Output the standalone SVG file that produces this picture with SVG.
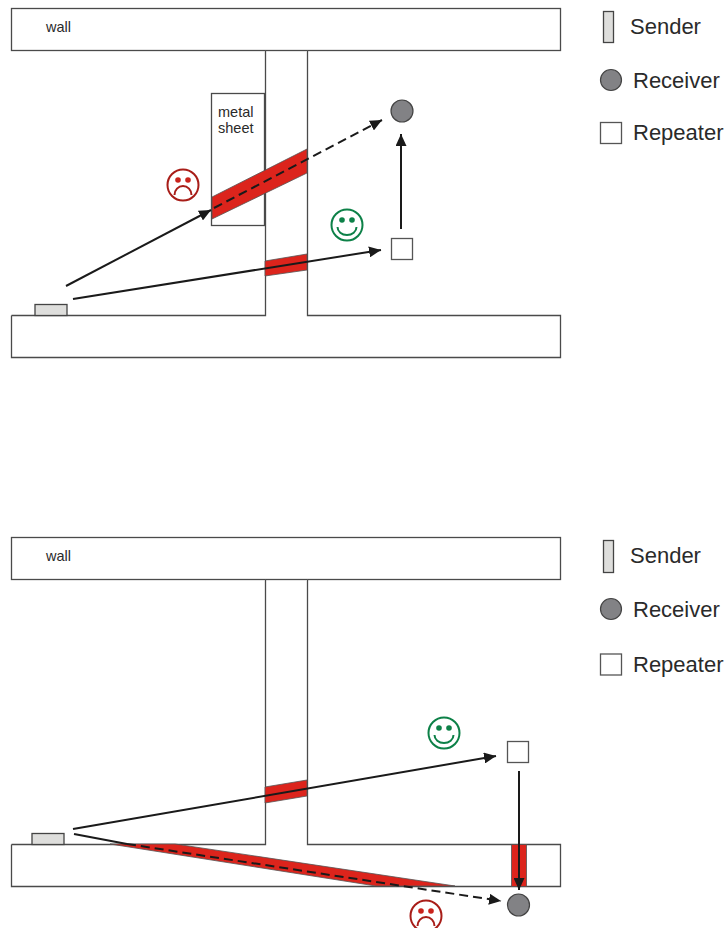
<svg xmlns="http://www.w3.org/2000/svg" width="726" height="928" viewBox="0 0 726 928">
<style>
text{font-family:"Liberation Sans",Arial,sans-serif;fill:#2a2a2a}
.lg{font-size:22px}
.sm{font-size:14.500px}
.wall{fill:#fff;stroke:#4a4a4a;stroke-width:1.3}
.red{fill:#dc241c;stroke:#555;stroke-width:.8}
.snd{fill:#dededc;stroke:#444;stroke-width:1.300}
.rcv{fill:#828285;stroke:#444;stroke-width:1.200}
.rep{fill:#fff;stroke:#555;stroke-width:1.300}
.ln{fill:none;stroke:#1a1a1a;stroke-width:2}
.dash{stroke-dasharray:9 5}
.bad{fill:none;stroke:#a81d18;stroke-width:2}
.good{fill:none;stroke:#0d8148;stroke-width:2}
.badf{fill:#c9231c}
.goodf{fill:#0d8148}
</style>
<defs>
<marker id="a" markerUnits="userSpaceOnUse" markerWidth="13" markerHeight="11" refX="12" refY="5.500" orient="auto"><path d="M0 0L12 5.500L0 11Z" fill="#1a1a1a"/></marker>
<g id="frown"><circle r="15.500" class="bad"/><circle cx="-5" cy="-5" r="2.800" class="badf"/><circle cx="5" cy="-5" r="2.800" class="badf"/><path d="M-8.500 10A8.500 9 0 0 1 8.500 10" class="bad"/></g>
<g id="smile"><circle r="15.500" class="good"/><circle cx="-5" cy="-5" r="2.800" class="goodf"/><circle cx="5" cy="-5" r="2.800" class="goodf"/><path d="M-9.500 2A9.500 8 0 0 0 9.500 2" class="good"/></g>
</defs>

<g id="top-walls">
<rect id="top-wall-upper" class="wall" x="11.500" y="8.500" width="549" height="42"/>
<path id="top-wall-left" class="wall" d="M11.500 315.500H265.500V50.500M307.500 50.500V315.500H560.500V357.500H11.500V315.500"/>
<rect id="top-sheet" class="wall" x="211.500" y="93.500" width="53" height="132"/>
<path class="red" d="M212 197L307 149V173L212 219Z"/>
<path class="red" d="M265 261L307 254V270L265 276Z"/>
<text class="sm" x="46" y="32">wall</text>
<text class="sm" x="218" y="117">metal</text>
<text class="sm" x="218" y="133">sheet</text>
</g>
<g id="top-sender"><rect class="snd" x="35" y="304.500" width="32" height="11"/></g>
<g id="top-receiver"><circle class="rcv" cx="402" cy="111" r="11"/></g>
<g id="top-repeater"><rect class="rep" x="391.500" y="238.500" width="21" height="21"/></g>
<g id="top-frown"><use href="#frown" x="183" y="185"/></g>
<g id="top-smile"><use href="#smile" x="347" y="225"/></g>
<g id="top-legend">
<g id="top-legend-sender"><rect class="snd" x="603.500" y="11.500" width="10" height="31"/><text class="lg" x="630" y="34">Sender</text></g>
<g id="top-legend-receiver"><circle class="rcv" cx="611" cy="80" r="10.500"/><text class="lg" x="633" y="88">Receiver</text></g>
<g id="top-legend-repeater"><rect class="rep" x="600.500" y="122.500" width="21" height="21"/><text class="lg" x="633" y="140">Repeater</text></g>
</g>

<g id="bottom-walls">
<rect id="bottom-wall-upper" class="wall" x="11.500" y="537.500" width="549" height="42"/>
<path id="bottom-wall-left" class="wall" d="M11.500 844.500H265.500V579.500M307.500 579.500V844.500H560.500V886.500H11.500V844.500"/>
<path class="red" d="M265 787L307 780V796L265 803Z"/>
<path class="red" d="M110 844H175L455 886H376Z"/>
<rect class="red" x="511.500" y="844.500" width="15" height="42"/>
<text class="sm" x="46" y="561">wall</text>
</g>
<g id="bottom-sender"><rect class="snd" x="32" y="833.500" width="32" height="11"/></g>
<g id="bottom-receiver"><circle class="rcv" cx="518.500" cy="905" r="11"/></g>
<g id="bottom-repeater"><rect class="rep" x="507.500" y="741.500" width="21" height="21"/></g>
<g id="bottom-smile"><use href="#smile" x="444" y="733"/></g>
<g id="bottom-frown"><use href="#frown" x="426" y="916"/></g>
<g id="bottom-legend">
<g id="bottom-legend-sender"><rect class="snd" x="603.500" y="540.500" width="10" height="32"/><text class="lg" x="630" y="563">Sender</text></g>
<g id="bottom-legend-receiver"><circle class="rcv" cx="611" cy="609" r="10.500"/><text class="lg" x="633" y="617">Receiver</text></g>
<g id="bottom-legend-repeater"><rect class="rep" x="600.500" y="654" width="21" height="21"/><text class="lg" x="633" y="672">Repeater</text></g>
</g>

<g id="connectors">
<path class="ln" d="M66 286L211 210" marker-end="url(#a)"/>
<path class="ln dash" d="M214 208L382 120" marker-end="url(#a)"/>
<path class="ln" d="M73 299L381 250" marker-end="url(#a)"/>
<path class="ln" d="M401 229V134" marker-end="url(#a)"/>
<path class="ln" d="M73 829L496 756" marker-end="url(#a)"/>
<path class="ln" d="M74 834L127 844"/>
<path class="ln dash" d="M127 844L501 901" marker-end="url(#a)"/>
<path class="ln" d="M519 771V890" marker-end="url(#a)"/>
</g>
</svg>
